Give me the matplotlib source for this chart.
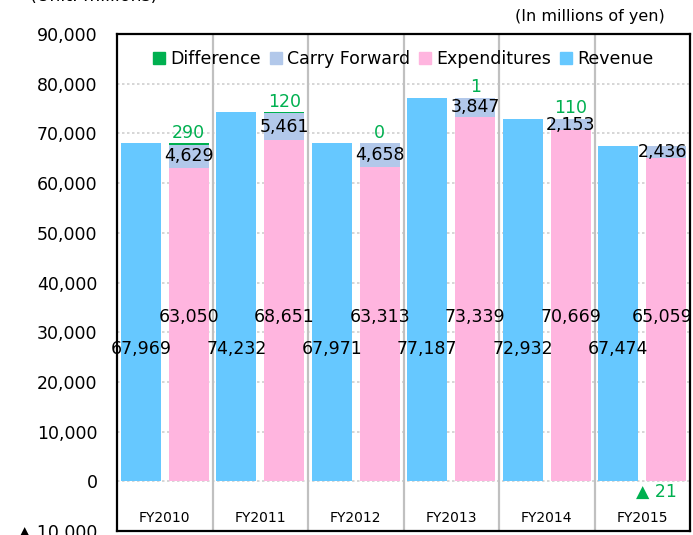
import matplotlib
matplotlib.use("Agg")
import matplotlib.pyplot as plt
from matplotlib.patches import Patch

years = ["FY2010", "FY2011", "FY2012", "FY2013", "FY2014", "FY2015"]
revenue = [67969, 74232, 67971, 77187, 72932, 67474]
expenditures = [63050, 68651, 63313, 73339, 70669, 65059]
carry_forward = [4629, 5461, 4658, 3847, 2153, 2436]
difference = [290, 120, 0, 1, 110, -21]

c_rev = "#66C8FF"
c_exp = "#FFB5DF"
c_cf = "#B2C8EA"
c_diff = "#00B050"


def fmt(v):
    if v < 0:
        return "\u25b2 " + format(-v, ",")
    return format(v, ",")


fig = plt.figure(figsize=(6.93, 5.35), dpi=100)
ax = fig.add_axes([117 / 693, 4 / 535, 573 / 693, 497 / 535])

x = list(range(len(years)))
w = 0.42
off = 0.25
xr = [i - off for i in x]
xe = [i + off for i in x]

ax.bar(xr, revenue, width=w, color=c_rev, zorder=2)
ax.bar(xe, expenditures, width=w, color=c_exp, zorder=2)
ax.bar(xe, carry_forward, width=w, bottom=expenditures, color=c_cf, zorder=2)
for i in x:
    top = expenditures[i] + carry_forward[i]
    d = difference[i]
    if d >= 0:
        ax.bar(xe[i], d, width=w, bottom=top, color=c_diff, zorder=2)
    else:
        ax.bar(xe[i], d, width=w, bottom=0, color=c_diff, zorder=2)

fs = 12.5
last = len(years) - 1
for i in x:
    # the last column's labels are nudged left so they stay inside the frame
    shift = -0.04 if i == last else 0
    ax.text(xr[i], 26600, fmt(revenue[i]), ha="center", va="center", fontsize=fs, zorder=3)
    ax.text(xe[i] + shift, 33000, fmt(expenditures[i]), ha="center", va="center",
            fontsize=fs, zorder=3)
    ax.text(xe[i] + shift, expenditures[i] + carry_forward[i] / 2, fmt(carry_forward[i]),
            ha="center", va="center", fontsize=fs, zorder=3)
    d = difference[i]
    top = expenditures[i] + carry_forward[i] + max(d, 0)
    if d >= 0:
        ax.text(xe[i], top + 300, fmt(d), ha="center", va="bottom", fontsize=fs,
                color=c_diff, zorder=3)
    else:
        ax.text(xe[i] - 0.1, -2200, fmt(d), ha="center", va="center", fontsize=fs,
                color=c_diff, zorder=3)
    ax.text(i, -7400, years[i], ha="center", va="center", fontsize=10, zorder=3)

ax.set_xlim(-0.5, len(years) - 0.5)
ax.set_ylim(-10000, 90000)
ax.set_yticks(range(-10000, 90001, 10000))
ax.set_yticklabels([fmt(v) for v in range(-10000, 90001, 10000)], fontsize=fs)
ax.set_xticks([])
ax.tick_params(axis="y", length=0, pad=14)

for v in range(0, 90000, 10000):
    ax.axhline(v, color="#D0D0D0", lw=1.2, ls=(0, (1.5, 1.5)), zorder=0)
for i in x[:-1]:
    ax.axvline(i + 0.5, color="#C0C0C0", lw=1.6, zorder=1)

for s in ax.spines.values():
    s.set_color("black")
    s.set_linewidth(1.6)

handles = [Patch(color=c_diff), Patch(color=c_cf), Patch(color=c_exp), Patch(color=c_rev)]
ax.legend(handles, ["Difference", "Carry Forward", "Expenditures", "Revenue"],
          loc="upper center", bbox_to_anchor=(0.5, 0.992), ncol=4, frameon=False,
          fontsize=fs, handlelength=0.7, handleheight=0.7, handletextpad=0.3,
          columnspacing=0.5, borderaxespad=0.3)

fig.text(665 / 693, 1 - 16 / 535, "(In millions of yen)", ha="right", va="center", fontsize=11.5)
fig.text(30 / 693, 1 - 1 / 535, "(Unit: millions)", ha="left", va="baseline", fontsize=12.5)

fig.savefig("out.png", dpi=100)
